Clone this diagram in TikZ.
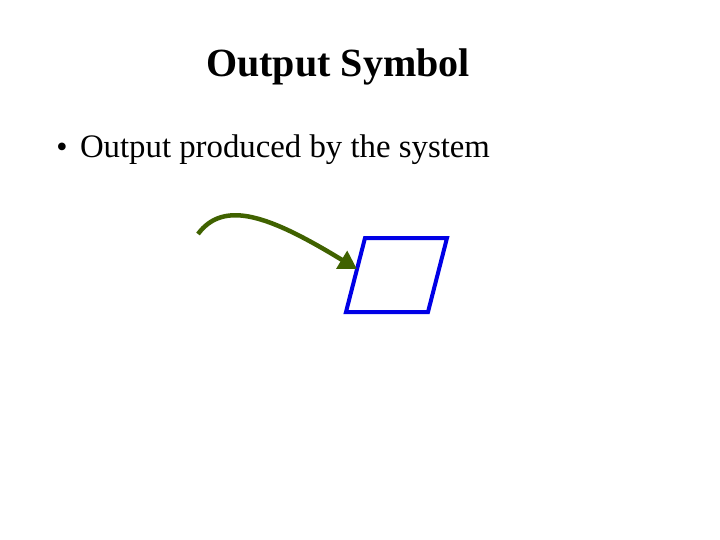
\documentclass[tikz,border=0pt]{standalone}
\usepackage{fontspec}
\setmainfont{Liberation Serif}
\usetikzlibrary{arrows.meta,calc}
\definecolor{flowgreen}{RGB}{64,98,0}
\definecolor{outblue}{RGB}{0,0,230}

\begin{document}
\begin{tikzpicture}[x=1pt,y=-1pt,inner sep=0pt,outer sep=0pt]
\useasboundingbox (0,0) rectangle (720,540);
%heading
\node[anchor=base,font=\fontsize{40}{48}\selectfont\bfseries] (title) at (338,77) {Output Symbol};
\node[anchor=base,font=\fontsize{32}{38}\selectfont] (dot) at (62,158) {\textbullet};
\node[anchor=base west,font=\fontsize{32.8}{38}\selectfont] (bullet) at (80,158) {Output produced by the system};
%output symbol
\coordinate (bl) at (346,312);
\coordinate (tl) at (365,238);
\coordinate (tr) at (447,238);
\coordinate (br) at (428,312);
\draw[outblue,line width=4pt,line join=miter] (bl) -- (tl) -- (tr) -- (br) -- cycle;
%incoming arrow
\coordinate (src) at (198,234);
\coordinate (hit) at ($(bl)!0.58!(tl)$);
\draw[flowgreen,line width=4.5pt,-{Triangle[length=18pt,width=20pt]}]
  (src) .. controls (224,199) and (270,216) .. (hit);
\end{tikzpicture}
\end{document}
